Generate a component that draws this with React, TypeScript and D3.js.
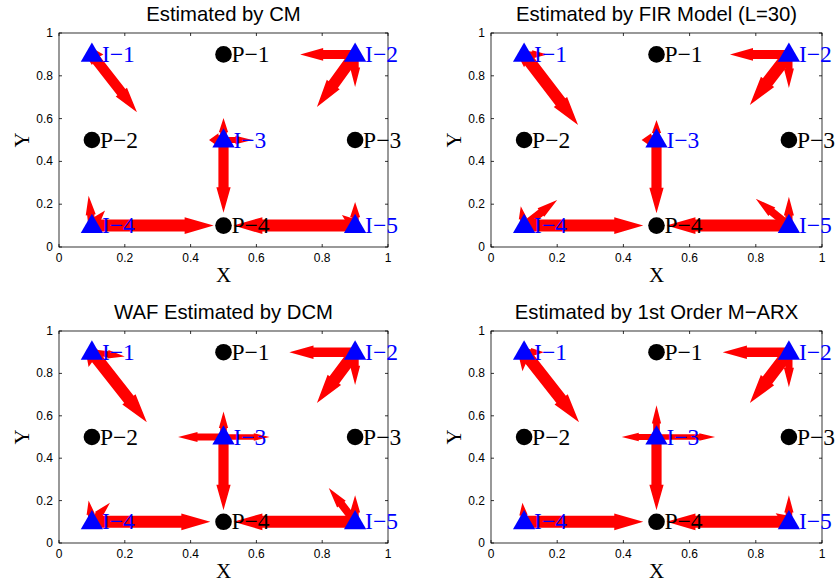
import React from "react";
import * as d3 from "d3";

const titles = [
  "Estimated by CM",
  "Estimated by FIR Model (L=30)",
  "WAF Estimated by DCM",
  "Estimated by 1st Order M\u2212ARX",
];

const inputNames = ["I\u22121", "I\u22122", "I\u22123", "I\u22124", "I\u22125"];
const inputX = [0.1, 0.9, 0.5, 0.1, 0.9];
const inputY = [0.9, 0.9, 0.5, 0.1, 0.1];

const pointNames = ["P\u22121", "P\u22122", "P\u22123", "P\u22124"];
const pointX = [0.5, 0.1, 0.9, 0.5];
const pointY = [0.9, 0.5, 0.5, 0.1];

const ticks = [0, 0.2, 0.4, 0.6, 0.8, 1];

// [input index, tip x, tip y, relative strength]
type Arrow = [number, number, number, number];

const cmArrows: Arrow[] = [
  [0, 0.237, 0.63, 0.85],
  [0, 0.135, 0.9, 0.5],
  [0, 0.1, 0.85, 0.5],
  [1, 0.733, 0.9, 0.75],
  [1, 0.784, 0.654, 0.95],
  [1, 0.9, 0.748, 0.6],
  [2, 0.5, 0.603, 0.55],
  [2, 0.5, 0.16, 0.85],
  [2, 0.588, 0.5, 0.5],
  [2, 0.456, 0.5, 0.8],
  [3, 0.47, 0.1, 1.0],
  [3, 0.09, 0.24, 0.6],
  [3, 0.14, 0.17, 0.5],
  [4, 0.53, 0.1, 1.0],
  [4, 0.9, 0.21, 0.6],
  [4, 0.86, 0.15, 0.5],
];

const firArrows: Arrow[] = [
  [0, 0.263, 0.57, 1.0],
  [0, 0.17, 0.9, 0.5],
  [0, 0.1, 0.84, 0.5],
  [1, 0.722, 0.9, 0.75],
  [1, 0.782, 0.664, 1.0],
  [1, 0.9, 0.743, 0.6],
  [2, 0.5, 0.593, 0.55],
  [2, 0.5, 0.158, 0.85],
  [2, 0.455, 0.5, 0.8],
  [3, 0.46, 0.1, 1.0],
  [3, 0.2, 0.22, 0.65],
  [3, 0.09, 0.19, 0.5],
  [4, 0.53, 0.1, 1.0],
  [4, 0.8, 0.225, 0.65],
  [4, 0.9, 0.235, 0.6],
];

const dcmArrows: Arrow[] = [
  [0, 0.267, 0.57, 1.0],
  [0, 0.2, 0.88, 0.5],
  [0, 0.09, 0.83, 0.5],
  [1, 0.7, 0.9, 0.8],
  [1, 0.784, 0.66, 1.0],
  [1, 0.9, 0.745, 0.6],
  [2, 0.5, 0.62, 0.55],
  [2, 0.5, 0.155, 0.85],
  [2, 0.362, 0.5, 0.6],
  [2, 0.64, 0.5, 0.45],
  [3, 0.46, 0.1, 1.0],
  [3, 0.155, 0.19, 0.55],
  [3, 0.09, 0.2, 0.5],
  [4, 0.53, 0.1, 1.0],
  [4, 0.82, 0.26, 0.65],
  [4, 0.9, 0.225, 0.6],
];

const arxArrows: Arrow[] = [
  [0, 0.266, 0.57, 1.0],
  [0, 0.16, 0.9, 0.5],
  [0, 0.095, 0.81, 0.5],
  [1, 0.7, 0.9, 0.8],
  [1, 0.782, 0.66, 1.0],
  [1, 0.9, 0.735, 0.6],
  [2, 0.5, 0.65, 0.55],
  [2, 0.5, 0.155, 0.85],
  [2, 0.395, 0.5, 0.5],
  [2, 0.677, 0.5, 0.45],
  [3, 0.46, 0.1, 1.0],
  [3, 0.095, 0.19, 0.5],
  [3, 0.16, 0.12, 0.5],
  [4, 0.53, 0.1, 1.0],
  [4, 0.9, 0.225, 0.55],
  [4, 0.86, 0.14, 0.5],
];

const panelArrows = [cmArrows, firArrows, dcmArrows, arxArrows];

const layouts = [
  { x0: 59, x1: 388, y0: 33, y1: 247 },
  { x0: 491, x1: 822, y0: 33, y1: 247 },
  { x0: 59, x1: 388, y0: 331, y1: 543 },
  { x0: 491, x1: 822, y0: 331, y1: 543 },
];

const sans = "'Liberation Sans', Arial, Helvetica, sans-serif";
const serif = "'Liberation Serif', 'Times New Roman', serif";

function arrowPath(sx: number, sy: number, tx: number, ty: number, w: number): string {
  const dx = tx - sx;
  const dy = ty - sy;
  const L = Math.hypot(dx, dy);
  if (L < 0.5) return "";
  const ux = dx / L;
  const uy = dy / L;
  const nx = -uy;
  const ny = ux;
  const headLen = Math.min(2 * w + 5, 0.65 * L);
  const hw = w * 0.7;
  const sw = w / 2;
  const bx = tx - ux * headLen;
  const by = ty - uy * headLen;
  const p = d3.path();
  p.moveTo(sx + nx * sw, sy + ny * sw);
  p.lineTo(bx + nx * sw, by + ny * sw);
  p.lineTo(bx + nx * hw, by + ny * hw);
  p.lineTo(tx, ty);
  p.lineTo(bx - nx * hw, by - ny * hw);
  p.lineTo(bx - nx * sw, by - ny * sw);
  p.lineTo(sx - nx * sw, sy - ny * sw);
  p.closePath();
  return p.toString();
}

function Panel({ idx }: { idx: number }) {
  const lay = layouts[idx];
  const x = d3.scaleLinear().domain([0, 1]).range([lay.x0, lay.x1]);
  const y = d3.scaleLinear().domain([0, 1]).range([lay.y1, lay.y0]);
  const cx = (lay.x0 + lay.x1) / 2;
  const cy = (lay.y0 + lay.y1) / 2;
  const arrows = panelArrows[idx];
  const tri = d3.symbol().type(d3.symbolTriangle).size(215)();
  return (
    <g>
      <rect x={lay.x0} y={lay.y0} width={lay.x1 - lay.x0} height={lay.y1 - lay.y0} fill="#fff" />
      {arrows.map((a, i) => (
        <path
          key={i}
          d={arrowPath(x(inputX[a[0]]), y(inputY[a[0]]), x(a[1]), y(a[2]), a[3] * 12)}
          fill="#ff0000"
        />
      ))}
      <rect x={lay.x0} y={lay.y0} width={lay.x1 - lay.x0} height={lay.y1 - lay.y0} fill="none" stroke="#000" strokeWidth={0.8} />
      {ticks.map((t) => (
        <g key={"t" + t}>
          <line x1={x(t)} x2={x(t)} y1={lay.y1} y2={lay.y1 - 3} stroke="#000" strokeWidth={0.8} />
          <line x1={x(t)} x2={x(t)} y1={lay.y0} y2={lay.y0 + 3} stroke="#000" strokeWidth={0.8} />
          <line y1={y(t)} y2={y(t)} x1={lay.x0} x2={lay.x0 + 3} stroke="#000" strokeWidth={0.8} />
          <line y1={y(t)} y2={y(t)} x1={lay.x1} x2={lay.x1 - 3} stroke="#000" strokeWidth={0.8} />
          <text x={x(t)} y={lay.y1 + 15} textAnchor="middle" fontFamily={sans} fontSize={12}>
            {String(t)}
          </text>
          <text x={lay.x0 - 6} y={y(t) + 4} textAnchor="end" fontFamily={sans} fontSize={12}>
            {String(t)}
          </text>
        </g>
      ))}
      {pointNames.map((n, i) => (
        <g key={n}>
          <circle cx={x(pointX[i])} cy={y(pointY[i])} r={8.3} fill="#000" />
          <text x={x(pointX[i]) + 8} y={y(pointY[i]) + 7.5} fontFamily={serif} fontSize={23.5} fill="#000">
            {n}
          </text>
        </g>
      ))}
      {inputNames.map((n, i) => (
        <g key={n}>
          <path d={tri} transform={`translate(${x(inputX[i])},${y(inputY[i]) + 1})`} fill="#0000ff" />
          <text x={x(inputX[i]) + 10} y={y(inputY[i]) + 7.5} fontFamily={serif} fontSize={23.5} fill="#0000ff">
            {n}
          </text>
        </g>
      ))}
      <text x={cx} y={lay.y0 - 12} textAnchor="middle" fontFamily={sans} fontSize={20.3}>
        {titles[idx]}
      </text>
      <text x={cx} y={lay.y1 + 35} textAnchor="middle" fontFamily={serif} fontSize={21}>
        X
      </text>
      <text
        transform={`translate(${lay.x0 - 30},${cy}) rotate(-90)`}
        textAnchor="middle"
        fontFamily={serif}
        fontSize={21}
      >
        Y
      </text>
    </g>
  );
}

export default function App() {
  return (
    <svg
      width={839}
      height={586}
      style={{ position: "absolute", left: 0, top: 0, background: "#fff" }}
    >
      {[0, 1, 2, 3].map((i) => (
        <Panel key={i} idx={i} />
      ))}
    </svg>
  );
}
